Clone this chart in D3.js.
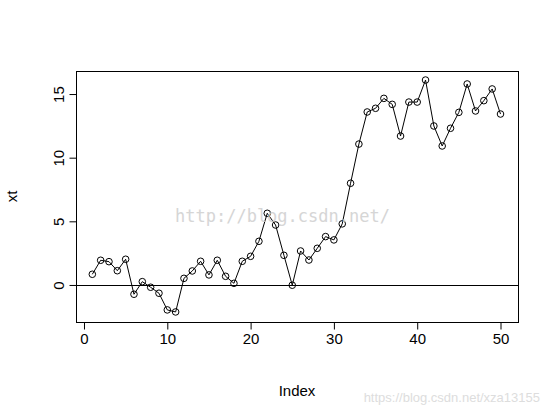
<!DOCTYPE html>
<html><head><meta charset="utf-8">
<script src="https://cdn.jsdelivr.net/npm/d3@7"></script>
<style>body{margin:0;background:#fff}</style></head>
<body><svg id="c" width="551" height="415"></svg>
<script>
const xt = [0.84,1.94,1.83,1.12,2.02,-0.73,0.26,-0.18,-0.65,-1.96,-2.12,0.52,1.10,1.86,0.79,1.94,0.68,0.13,1.86,2.25,3.43,5.63,4.71,2.33,-0.02,2.67,1.96,2.88,3.80,3.54,4.80,7.99,11.07,13.59,13.88,14.66,14.19,11.70,14.37,14.37,16.10,12.49,10.92,12.31,13.56,15.79,13.67,14.48,15.40,13.43];
const xTicks = [0,10,20,30,40,50];
const yTicks = [0,5,10,15];
const svg = d3.select("#c");
const L=76,R=518,T=71,B=322;
const x = d3.scaleLinear().domain([-0.96,52.1]).range([L,R]);
const y = d3.scaleLinear().domain([-2.91,16.81]).range([B,T]);
const font="Liberation Sans, Arial, sans-serif";
svg.append("rect").attr("x",L+0.5).attr("y",T+0.5).attr("width",R-L).attr("height",B-T).attr("fill","none").attr("stroke","#000");
const xa = svg.append("g").attr("transform",`translate(0,${B+0.5})`).call(d3.axisBottom(x).tickValues(xTicks).tickSize(7).tickPadding(4));
xa.select(".domain").attr("d",`M${x(0)},0H${x(50)}`);
const ya = svg.append("g").attr("transform",`translate(${L+0.5},0)`).call(d3.axisLeft(y).tickValues(yTicks).tickSize(7).tickPadding(6));
ya.select(".domain").attr("d",`M0,${y(0)}V${y(15)}`);
ya.selectAll("text").attr("transform",function(){return `rotate(-90,${d3.select(this).attr("x")},0)`}).attr("text-anchor","middle").attr("dy","0");
svg.selectAll(".tick text").attr("font-family",font).attr("font-size",15).attr("fill","#000");
svg.selectAll(".tick line,.domain").attr("stroke","#000");
svg.append("line").attr("x1",L).attr("x2",R).attr("y1",Math.round(y(0))+0.5).attr("y2",Math.round(y(0))+0.5).attr("stroke","#000");
svg.append("text").attr("x",(L+R)/2).attr("y",396).attr("text-anchor","middle").attr("font-family",font).attr("font-size",15).text("Index");
svg.append("text").attr("transform",`translate(17,${(T+B)/2}) rotate(-90)`).attr("text-anchor","middle").attr("font-family",font).attr("font-size",15).text("xt");
svg.append("path").datum(xt).attr("fill","none").attr("stroke","#000")
 .attr("d",d3.line().x((d,i)=>x(i+1)).y(d=>y(d)));
svg.selectAll("circle.p").data(xt).join("circle").attr("cx",(d,i)=>x(i+1)).attr("cy",d=>y(d)).attr("r",3.3).attr("fill","#fff").attr("fill-opacity",0).attr("stroke","#000");
svg.append("text").attr("x",175).attr("y",222).attr("font-family","DejaVu Sans Mono, monospace").attr("font-size",17).attr("fill","#ccc").attr("opacity",0.8).text("http://blog.csdn.net/");
svg.append("text").attr("x",540).attr("y",402).attr("text-anchor","end").attr("font-family",font).attr("font-size",13).attr("fill","#ddd").text("https://blog.csdn.net/xza13155");
</script></body></html>
